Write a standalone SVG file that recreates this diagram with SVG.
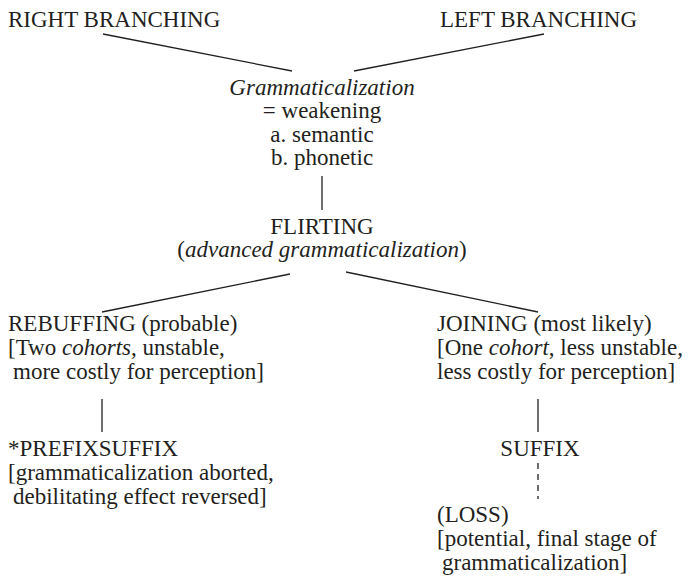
<svg xmlns="http://www.w3.org/2000/svg" width="690" height="581" viewBox="0 0 690 581">
<style>
text{font-family:"Liberation Serif","Times New Roman",serif;font-size:23px;fill:#231f20}
.c{text-anchor:middle}
.i{font-style:italic}
.ln{stroke:#231f20;stroke-width:1.3;fill:none}
.dash{stroke-dasharray:6 5}
</style>
<rect width="690" height="581" fill="#fff"/>
<g id="connectors">
<line class="ln" x1="103" y1="34" x2="292" y2="71"/>
<line class="ln" x1="544" y1="34" x2="354" y2="71"/>
<line class="ln" x1="322" y1="176" x2="322" y2="210"/>
<line class="ln" x1="290" y1="274" x2="102" y2="312"/>
<line class="ln" x1="346" y1="272" x2="538" y2="312"/>
<line class="ln" x1="102" y1="399" x2="102" y2="432"/>
<line class="ln" x1="538" y1="399" x2="538" y2="432"/>
<line class="ln dash" x1="538" y1="463" x2="538" y2="499"/>
</g>
<g id="right-branching"><text x="8" y="27">RIGHT BRANCHING</text></g>
<g id="left-branching"><text x="440" y="27">LEFT BRANCHING</text></g>
<g id="grammaticalization">
<text class="c i" x="322" y="95">Grammaticalization</text>
<text class="c" x="322" y="118">= weakening</text>
<text class="c" x="322" y="142">a. semantic</text>
<text class="c" x="322" y="165">b. phonetic</text>
</g>
<g id="flirting">
<text class="c" x="322" y="234">FLIRTING</text>
<text class="c" x="322" y="257">(<tspan class="i">advanced grammaticalization</tspan>)</text>
</g>
<g id="rebuffing">
<text x="8" y="331">REBUFFING (probable)</text>
<text x="8" y="355">[Two <tspan class="i">cohorts</tspan>, unstable,</text>
<text x="13" y="379">more costly for perception]</text>
</g>
<g id="prefixsuffix">
<text x="8" y="456">*PREFIXSUFFIX</text>
<text x="8" y="480">[grammaticalization aborted,</text>
<text x="13" y="504">debilitating effect reversed]</text>
</g>
<g id="joining">
<text x="437" y="331">JOINING (most likely)</text>
<text x="437" y="355">[One <tspan class="i">cohort</tspan>, less unstable,</text>
<text x="437" y="379">less costly for perception]</text>
</g>
<g id="suffix"><text class="c" x="540" y="456">SUFFIX</text></g>
<g id="loss">
<text x="437" y="522">(LOSS)</text>
<text x="437" y="546">[potential, final stage of</text>
<text x="442" y="570">grammaticalization]</text>
</g>
</svg>
